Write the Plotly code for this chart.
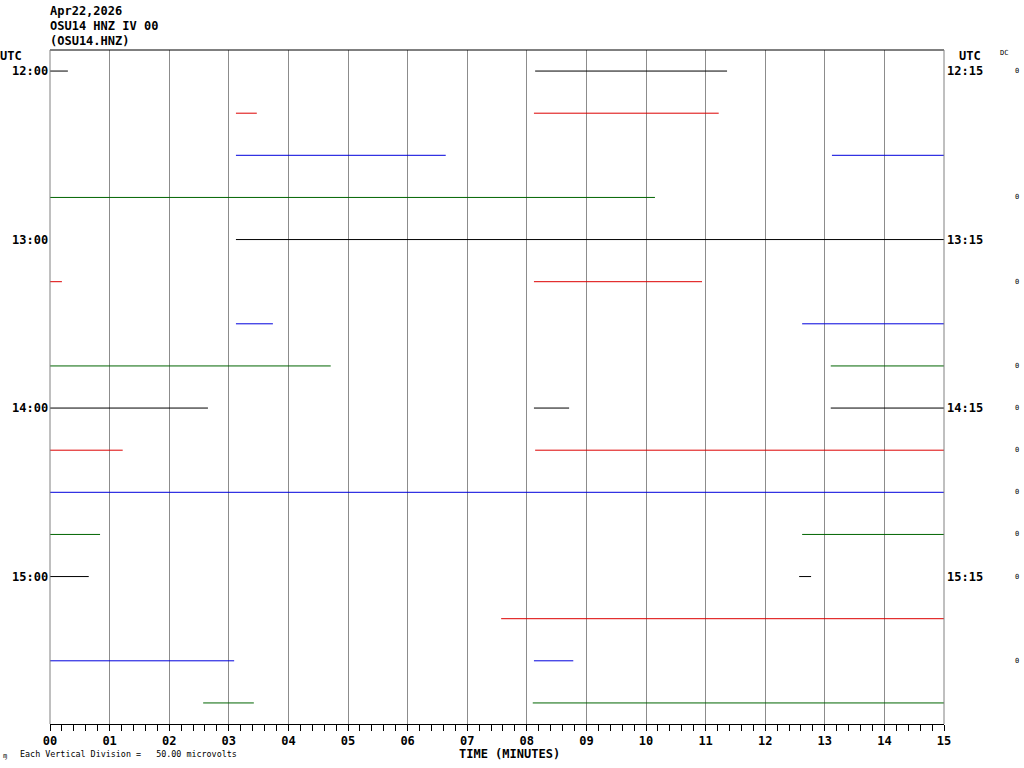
import plotly.graph_objects as go

# ---- data ----
header_lines = ["Apr22,2026", "OSU14 HNZ IV 00", "(OSU14.HNZ)"]
left_labels = {0: "12:00", 4: "13:00", 8: "14:00", 12: "15:00"}
right_labels = {0: "12:15", 4: "13:15", 8: "14:15", 12: "15:15"}
dc_rows = [0, 3, 5, 7, 8, 9, 10, 11, 12, 14]
minute_ticks = list(range(16))
minute_labels = ["%02d" % m for m in minute_ticks]
row_colors = ["black", "#dd0000", "#0000dd", "#006400"]

# segments: (row, start minute, end minute)
seg_rows = [0, 0, 1, 1, 2, 2, 3, 4, 5, 5, 6, 6, 7, 7, 8, 8, 8, 9, 9, 10, 11, 11, 12, 12, 13, 14, 14, 15, 15]
seg_start = [0.00, 8.14, 3.12, 8.12, 3.12, 13.12, 0.00, 3.12, 0.00, 8.12, 3.12, 12.62, 0.00, 13.10,
             0.00, 8.12, 13.10, 0.00, 8.14, 0.00, 0.00, 12.62, 0.00, 12.57, 7.57, 0.00, 8.12, 2.57, 8.10]
seg_end = [0.30, 11.36, 3.47, 11.22, 6.64, 15.00, 10.15, 15.00, 0.20, 10.94, 3.74, 15.00, 4.71, 15.00,
           2.65, 8.71, 15.00, 1.22, 15.00, 15.00, 0.84, 15.00, 0.65, 12.77, 15.00, 3.09, 8.78, 3.42, 15.00]

fig = go.Figure()
for ci, col in enumerate(row_colors):
    xs, ys = [], []
    for r, s, e in zip(seg_rows, seg_start, seg_end):
        if r % 4 == ci:
            xs += [s, e, None]
            ys += [r, r, None]
    fig.add_trace(go.Scatter(x=xs, y=ys, mode="lines", line=dict(color=col, width=1),
                             hoverinfo="skip", showlegend=False))

MONO = "DejaVu Sans Mono"
L, R, T, B = 50, 944, 50, 724
W, H = 1024, 768


def px(xp):
    return (xp - L) / (R - L)


def py(yp):
    return (B - yp) / (B - T)


ann = []
for i, t in enumerate(header_lines):
    ann.append(dict(x=px(50), y=py(11 + 15 * i), xref="paper", yref="paper", text="<b>%s</b>" % t,
                    xanchor="left", yanchor="middle", xshift=-2, showarrow=False,
                    font=dict(family=MONO, size=12, color="black")))
ann.append(dict(x=px(0), y=py(56), xref="paper", yref="paper", text="<b>UTC</b>", xanchor="left", xshift=-2,
                yanchor="middle", showarrow=False, font=dict(family=MONO, size=12, color="black")))
ann.append(dict(x=px(957), y=py(56), xref="paper", yref="paper", text="<b>UTC</b>", xanchor="left",
                yanchor="middle", showarrow=False, font=dict(family=MONO, size=12, color="black")))
ann.append(dict(x=px(998), y=py(53), xref="paper", yref="paper", text="DC", xanchor="left",
                yanchor="middle", showarrow=False, font=dict(family=MONO, size=7, color="black")))
for r, t in left_labels.items():
    ann.append(dict(x=0, y=r, xref="paper", yref="y", text="<b>%s</b>" % t, xanchor="right", xshift=0,
                    yanchor="middle", showarrow=False, font=dict(family=MONO, size=12, color="black")))
for r, t in right_labels.items():
    ann.append(dict(x=1, y=r, xref="paper", yref="y", text="<b>%s</b>" % t, xanchor="left", xshift=1,
                    yanchor="middle", showarrow=False, font=dict(family=MONO, size=12, color="black")))
for r in dc_rows:
    ann.append(dict(x=px(1017), y=r, xref="paper", yref="y", text="0", xanchor="center",
                    yanchor="middle", showarrow=False, font=dict(family=MONO, size=7, color="black")))
ann.append(dict(x=px(509), y=py(754), xref="paper", yref="paper", text="<b>TIME (MINUTES)</b>",
                xanchor="center", yanchor="middle", showarrow=False, font=dict(family=MONO, size=12, color="black")))
ann.append(dict(x=px(18), y=py(754), xref="paper", yref="paper",
                text="Each Vertical Division =   50.00 microvolts".replace(" ", "&nbsp;"),
                xanchor="left", yanchor="middle", showarrow=False, font=dict(family=MONO, size=8.4, color="black")))
ann.append(dict(x=px(1), y=py(756), xref="paper", yref="paper", text="ɱ",
                xanchor="left", yanchor="middle", showarrow=False, font=dict(family=MONO, size=7, color="black")))

shapes = [
    dict(type="line", xref="paper", yref="paper", x0=0, x1=1, y0=1, y1=1, line=dict(color="black", width=1)),
    dict(type="line", xref="paper", yref="paper", x0=0, x1=0, y0=0, y1=1, line=dict(color="gray", width=1)),
    dict(type="line", xref="paper", yref="paper", x0=1, x1=1, y0=0, y1=1, line=dict(color="gray", width=1)),
]

fig.update_layout(
    width=W, height=H, margin=dict(l=L, r=W - R, t=T, b=H - B),
    paper_bgcolor="white", plot_bgcolor="white",
    annotations=ann, shapes=shapes,
    xaxis=dict(range=[0, 15], tickvals=minute_ticks, ticktext=["<b>%s</b>" % s for s in minute_labels],
               ticks="outside", ticklen=6, tickcolor="black", tickwidth=1,
               showline=True, linecolor="black", linewidth=1,
               showgrid=True, gridcolor="#8c8c8c", gridwidth=1, zeroline=False,
               tickfont=dict(family=MONO, size=12, color="black"),
               minor=dict(dtick=0.2, tick0=0, ticks="outside", ticklen=6, tickcolor="black", tickwidth=1,
                          showgrid=False)),
    yaxis=dict(range=[15.5, -0.5], showticklabels=False, ticks="", showgrid=False, zeroline=False, showline=False),
)

fig.write_html("out.html", config={"displayModeBar": False},
               post_script="document.body.style.margin='0';document.body.style.overflow='hidden';")
